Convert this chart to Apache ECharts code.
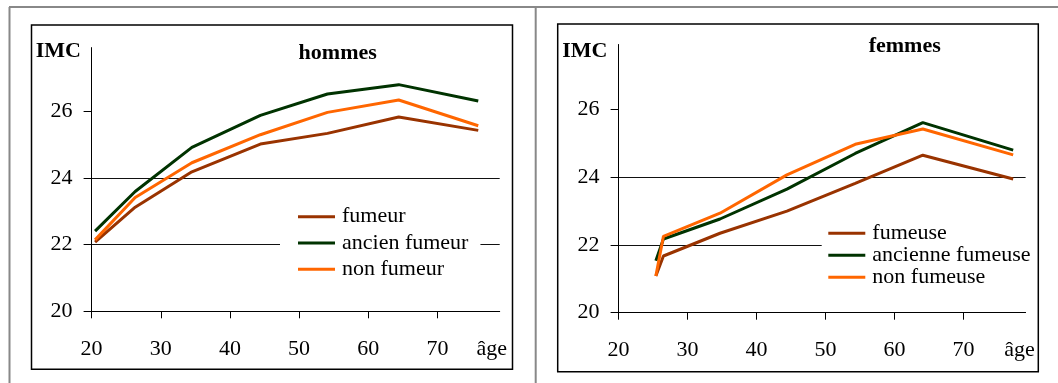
<!DOCTYPE html>
<html>
<head>
<meta charset="utf-8">
<script src="https://cdn.jsdelivr.net/npm/echarts@6/dist/echarts.min.js"></script>
<style>
html,body{margin:0;padding:0;background:#fff;}
#chart{width:1058px;height:383px;}
</style>
</head>
<body>
<div id="chart"></div>
<script>
// ---- data ----
const agesHommes = [20.5, 26.3, 34.5, 44.4, 54.1, 64.4, 75.9];
const fumeur = [22.07, 23.12, 24.18, 25.01, 25.33, 25.82, 25.42];
const ancienFumeur = [22.40, 23.59, 24.91, 25.87, 26.51, 26.79, 26.30];
const nonFumeur = [22.14, 23.41, 24.45, 25.29, 25.96, 26.33, 25.56];

const agesFemmes = [25.4, 26.5, 34.7, 44.4, 54.3, 64.1, 77.2];
const fumeuse = [21.08, 21.67, 22.34, 22.99, 23.81, 24.64, 23.94];
const ancienneFumeuse = [21.53, 22.17, 22.76, 23.64, 24.69, 25.60, 24.79];
const nonFumeuse = [21.08, 22.25, 22.93, 24.06, 24.96, 25.41, 24.65];

const xTicks = [20, 30, 40, 50, 60, 70];
const yTicks = [20, 22, 24, 26];
const namesHommes = ['fumeur', 'ancien fumeur', 'non fumeur'];
const namesFemmes = ['fumeuse', 'ancienne fumeuse', 'non fumeuse'];
const colors = ['#993300', '#003300', '#FF6600'];

// ---- chart ----
const FONT = 'Liberation Serif';
const pairs = (xs, ys) => xs.map((x, i) => [x, ys[i]]);

function xAxis(gi) {
  return {
    gridIndex: gi, type: 'value', min: 20, max: 79, interval: 10,
    axisLine: { show: true, onZero: false, lineStyle: { color: '#000', width: 1 } },
    axisTick: { show: true, length: 7, inside: false, customValues: xTicks, lineStyle: { color: '#000', width: 1 } },
    axisLabel: { customValues: xTicks, margin: 27, fontSize: 22, fontFamily: FONT, color: '#000' },
    splitLine: { show: false }
  };
}
function yAxis(gi) {
  return {
    gridIndex: gi, type: 'value', min: 20, max: 27.9, interval: 2,
    axisLine: { show: true, onZero: false, lineStyle: { color: '#000', width: 1 } },
    axisTick: { show: true, length: 8, inside: false, customValues: yTicks, lineStyle: { color: '#000', width: 1 } },
    axisLabel: { customValues: yTicks, margin: 19, fontSize: 22, fontFamily: FONT, color: '#000' },
    splitLine: { show: true, showMinLine: false, showMaxLine: false, lineStyle: { color: '#111', width: 1 } }
  };
}
function series(name, xs, ys, gi, ci) {
  return {
    type: 'line', name: name, xAxisIndex: gi, yAxisIndex: gi,
    data: pairs(xs, ys), showSymbol: false, symbol: 'none',
    lineStyle: { color: colors[ci], width: 3 }, itemStyle: { color: colors[ci] },
    z: 2 + ci
  };
}
function legend(names, left, top, gap, lh, padL, padR) {
  return {
    orient: 'vertical', left: left, top: top, data: names,
    padding: [6, padR, 6, padL], backgroundColor: '#fff', selectedMode: false,
    icon: 'rect', itemWidth: 37, itemHeight: 3, itemGap: gap,
    textStyle: { fontSize: 22, fontFamily: FONT, color: '#000', padding: [0, 0, 0, 2], lineHeight: lh }
  };
}
function txt(text, x, y, align, bold) {
  return {
    type: 'text', x: x, y: y, z: 10,
    style: {
      text: text, fill: '#000',
      font: (bold ? 'bold ' : '') + '22px "Liberation Serif"',
      textAlign: align, textVerticalAlign: 'middle', align: align, verticalAlign: 'middle'
    }
  };
}
function ln(x1, y1, x2, y2, color, w) {
  return { type: 'line', shape: { x1: x1, y1: y1, x2: x2, y2: y2 }, style: { stroke: color, lineWidth: w }, z: 0 };
}

const chart = echarts.init(document.getElementById('chart'), null, { renderer: 'canvas' });
chart.setOption({
  animation: false,
  backgroundColor: '#fff',
  textStyle: { fontFamily: FONT, fontSize: 22 },
  grid: [
    { left: 91.6, top: 47.6, width: 408.1, height: 263.7 },
    { left: 618.6, top: 44.5, width: 407, height: 268.2 }
  ],
  xAxis: [xAxis(0), xAxis(1)],
  yAxis: [yAxis(0), yAxis(1)],
  legend: [
    legend(namesHommes, 280, 199.7, 4.3, 22, 18, 12),
    legend(namesFemmes, 821.7, 216.2, 0, 21.2, 6.6, 3)
  ],
  series: [
    series(namesHommes[0], agesHommes, fumeur, 0, 0),
    series(namesHommes[1], agesHommes, ancienFumeur, 0, 1),
    series(namesHommes[2], agesHommes, nonFumeur, 0, 2),
    series(namesFemmes[0], agesFemmes, fumeuse, 1, 0),
    series(namesFemmes[1], agesFemmes, ancienneFumeuse, 1, 1),
    series(namesFemmes[2], agesFemmes, nonFumeuse, 1, 2)
  ],
  graphic: [
    ln(9, 7, 1058, 7, '#888', 2),
    ln(9.5, 7, 9.5, 383, '#888', 2),
    ln(535.7, 7, 535.7, 383, '#888', 2),
    { type: 'rect', shape: { x: 31.5, y: 25, width: 481, height: 344.3 }, style: { fill: 'none', stroke: '#000', lineWidth: 1.5 }, z: 100 },
    { type: 'rect', shape: { x: 557.7, y: 24, width: 480.6, height: 347.7 }, style: { fill: 'none', stroke: '#000', lineWidth: 1.5 }, z: 100 },
    txt('IMC', 81, 51.7, 'right', true),
    txt('IMC', 607.4, 51.7, 'right', true),
    txt('hommes', 337.7, 53.3, 'center', true),
    txt('femmes', 904.7, 46.7, 'center', true),
    txt('âge', 491.8, 349.3, 'center', false),
    txt('âge', 1019.5, 350.5, 'center', false)
  ]
});
</script>
</body>
</html>
